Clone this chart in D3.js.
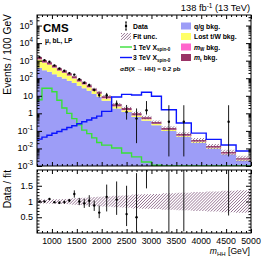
<!DOCTYPE html>
<meta charset="utf-8">
<script src="https://cdn.jsdelivr.net/npm/d3@7"></script>
<style>
  body { margin: 0; background: #fff; }
  svg text { font-family: "Liberation Sans", Arial, sans-serif; fill: #000; }
</style>
<div id="chart"></div>
<script>
  // bin edges in GeV (variable width)
  var edges = [700, 800, 900, 1000, 1100, 1200, 1300, 1400, 1500, 1600, 1700, 1800, 1900, 2000,
    2200, 2400, 2600, 2800, 3000, 3200, 3500, 3800, 4100, 4400, 4700, 5000];

  // backgrounds, events / 100 GeV
  var qgBkg = [400, 284, 235, 170, 122, 97, 72, 53, 37, 27, 19.2, 12.5, 8.8,
    5.2, 1.9, 1.2, 0.62, 0.384, 0.211, 0.099, 0.046, 0.0213, 0.0099, 0.0046, 0.00207];
  var lostTW = [752, 472, 348, 226, 144, 100, 66, 42, 26, 16.5, 10.4, 6, 3.7,
    1.9, 0.56, 0.3, 0.13, 0.072, 0.035, 0.0145, 0.006, 0.0024, 0.0011, 0.00044, 0.0002];
  var mWBkg = [48, 32, 24, 16, 11, 8, 6, 4, 2.6, 1.8, 1.2, 0.75, 0.5,
    0.28, 0.1, 0.06, 0.03, 0.018, 0.01, 0.0044, 0.002, 0.0009, 0.0004, 0.0002, 0.00008];
  var mtBkg = [400, 262, 203, 138, 93, 65, 46, 31, 21.4, 13.7, 9.2, 5.75, 4,
    2.12, 0.74, 0.44, 0.22, 0.126, 0.064, 0.0271, 0.012, 0.0054, 0.0023, 0.00106, 0.00045];
  // relative fit uncertainty per bin
  var fitUnc = [0.06, 0.06, 0.06, 0.07, 0.07, 0.08, 0.09, 0.1, 0.11, 0.12, 0.13, 0.14, 0.15,
    0.16, 0.18, 0.19, 0.22, 0.23, 0.24, 0.26, 0.28, 0.3, 0.32, 0.34, 0.36];

  // signals, events / 100 GeV
  var sig1TeV = [6, 27, 27, 17, 5.6, 2.0, 1.0, 0.5, 0.22, 0.11, 0.07, 0.04, 0.022,
    0.0155, 0.0105, 0.0055, 0.0033, 0.0017, 0.0011, 0.0008, 0.0006, 0.0005, 0.0004, 0.0003, 0.0003];
  var sig3TeV = [0.034, 0.044, 0.056, 0.073, 0.093, 0.12, 0.155, 0.197, 0.257, 0.33, 0.42, 0.54, 0.69,
    1.3, 8.5, 12, 11, 16, 9.5, 1.6, 0.28, 0.075, 0.033, 0.0156, 0.0071];

  // data, events / 100 GeV (null = empty bin)
  var dataVal = [1600, 1050, 875, 539, 355, 265, 196, 161, 87, 55.5, 41, 21.8, 11,
    10.9, 3.5, 1.2, 0.5, 1.5, null, 0.333, 0.333, null, null, 0.333, null];
  var dataLo = [1570, 1030, 850, 522, 340, 251, 186, 146, 77, 47, 33, 17.5, 8,
    6.5, 1.9, 0.44, 0.02, 0.85, null, 0.0035, 0.0035, null, null, 0.0035, null];
  var dataHi = [1630, 1070, 900, 556, 370, 278, 205, 176, 97, 64, 48, 25.8, 14.8,
    14.6, 5.4, 3.0, 1.9, 5.0, null, 2.9, 2.9, null, null, 2.9, null];

  var xTickVals = [1000, 1500, 2000, 2500, 3000, 3500, 4000, 4500, 5000];
  var logTickVals = [1e-3, 1e-2, 1e-1, 1, 10, 1e2, 1e3, 1e4, 1e5];
  var ratioTickVals = [0.5, 1, 1.5];

  var X0 = 37, X1 = 251, TY0 = 15, TY1 = 166, RY0 = 170, RY1 = 233;

  var bins = edges.slice(0, -1).map(function (e, i) {
    return {
      x0: e, x1: edges[i + 1], qg: qgBkg[i], tw: lostTW[i], mw: mWBkg[i], mt: mtBkg[i],
      unc: fitUnc[i], s1: sig1TeV[i], s3: sig3TeV[i],
      d: dataVal[i], dlo: dataLo[i], dhi: dataHi[i]
    };
  });
  bins.forEach(function (b) { b.tot = b.qg + b.tw + b.mw + b.mt; });

  var svg = d3.select("#chart").append("svg")
    .attr("width", 266).attr("height", 256);

  var defs = svg.append("defs");
  var hatch = defs.append("pattern").attr("id", "hatch")
    .attr("patternUnits", "userSpaceOnUse").attr("width", 2.1).attr("height", 2.1)
    .attr("patternTransform", "rotate(45)");
  hatch.append("line").attr("x1", 0).attr("y1", 0).attr("x2", 0).attr("y2", 2.1)
    .attr("stroke", "#8c6689").attr("stroke-width", 1.3);
  defs.append("clipPath").attr("id", "clipTop").append("rect")
    .attr("x", X0).attr("y", TY0).attr("width", X1 - X0).attr("height", TY1 - TY0);
  defs.append("clipPath").attr("id", "clipRatio").append("rect")
    .attr("x", X0).attr("y", RY0).attr("width", X1 - X0).attr("height", RY1 - RY0);

  var x = d3.scaleLinear().domain([700, 5000]).range([X0, X1]);
  var y = d3.scaleLog().domain([1e-3, 4e5]).range([TY1, TY0]).clamp(true);
  var r = d3.scaleLinear().domain([0, 2]).range([RY1, RY0]);

  function yv(v) { return y(Math.max(v, 1e-5)); }

  // step points: two per bin
  function stepPts(fLo, fHi) {
    var pts = [];
    bins.forEach(function (b) {
      var lo = fLo ? fLo(b) : 0;
      pts.push({ x: b.x0, lo: lo, hi: fHi(b) });
      pts.push({ x: b.x1, lo: lo, hi: fHi(b) });
    });
    return pts;
  }
  var area = d3.area().x(function (d) { return x(d.x); })
    .y0(function (d) { return yv(d.lo); }).y1(function (d) { return yv(d.hi); });
  var rArea = d3.area().x(function (d) { return x(d.x); })
    .y0(function (d) { return r(d.lo); }).y1(function (d) { return r(d.hi); });
  var line = d3.line().x(function (d) { return x(d.x); }).y(function (d) { return yv(d.hi); });

  // ---- top panel ----
  var topG = svg.append("g").attr("clip-path", "url(#clipTop)");

  var stack = d3.stack().keys(["qg", "tw", "mw", "mt"])(bins);
  var colors = { qg: "#9d9df7", tw: "#ffff66", mw: "#ff66cc", mt: "#993366" };
  stack.forEach(function (layer) {
    var pts = [];
    layer.forEach(function (s, i) {
      pts.push({ x: bins[i].x0, lo: s[0], hi: s[1] });
      pts.push({ x: bins[i].x1, lo: s[0], hi: s[1] });
    });
    topG.append("path").attr("d", area(pts)).attr("fill", colors[layer.key]);
  });

  topG.append("path")
    .attr("d", area(stepPts(function (b) { return b.tot * (1 - b.unc); }, function (b) { return b.tot * (1 + b.unc); })))
    .attr("fill", "url(#hatch)");

  topG.append("path").attr("d", line(stepPts(null, function (b) { return b.s1; })))
    .attr("fill", "none").attr("stroke", "#38e038").attr("stroke-width", 1.4);
  topG.append("path").attr("d", line(stepPts(null, function (b) { return b.s3; })))
    .attr("fill", "none").attr("stroke", "#0a14ff").attr("stroke-width", 1.4);

  var dataBins = bins.filter(function (b) { return b.d !== null; });
  var dg = topG.append("g");
  dataBins.forEach(function (b) {
    var cx = x((b.x0 + b.x1) / 2);
    dg.append("line").attr("x1", cx).attr("x2", cx)
      .attr("y1", y(b.dlo)).attr("y2", y(b.dhi))
      .attr("stroke", "#000").attr("stroke-width", 0.9);
    dg.append("circle").attr("cx", cx).attr("cy", y(b.d)).attr("r", 1.2).attr("fill", "#000");
  });

  // ---- ratio panel ----
  var rat = svg.append("g").attr("clip-path", "url(#clipRatio)");
  rat.append("path")
    .attr("d", rArea(stepPts(function (b) { return 1 - b.unc; }, function (b) { return 1 + b.unc; })))
    .attr("fill", "url(#hatch)");
  dataBins.forEach(function (b) {
    var cx = x((b.x0 + b.x1) / 2);
    rat.append("line").attr("x1", cx).attr("x2", cx)
      .attr("y1", r(b.dlo / b.tot)).attr("y2", r(Math.min(b.dhi / b.tot, 3)))
      .attr("stroke", "#000").attr("stroke-width", 0.9);
    rat.append("circle").attr("cx", cx).attr("cy", r(b.d / b.tot)).attr("r", 1.2).attr("fill", "#000");
  });

  // ---- frames and ticks ----
  function frame(y0, y1) {
    svg.append("rect").attr("x", X0).attr("y", y0).attr("width", X1 - X0).attr("height", y1 - y0)
      .attr("fill", "none").attr("stroke", "#000").attr("stroke-width", 1);
  }
  frame(TY0, TY1);
  frame(RY0, RY1);

  var xMinor = d3.range(700, 5001, 100).filter(function (v) { return v % 500 !== 0; });
  function xTicks(y0, y1) {
    [[y1, d3.axisBottom], [y0, d3.axisTop]].forEach(function (s) {
      var g = svg.append("g").attr("transform", "translate(0," + s[0] + ")");
      g.call(s[1](x).tickValues(xTickVals).tickSize(-4).tickFormat(""));
      var g2 = svg.append("g").attr("transform", "translate(0," + s[0] + ")");
      g2.call(s[1](x).tickValues(xMinor).tickSize(-2).tickFormat(""));
      g.selectAll(".domain").remove();
      g2.selectAll(".domain").remove();
    });
  }
  xTicks(TY0, TY1);
  xTicks(RY0, RY1);

  var logMinor = y.ticks().filter(function (v) {
    return logTickVals.indexOf(v) < 0 && v > 1e-3 && v < 4e5;
  });
  var rMinor = d3.range(1, 20).map(function (v) { return v / 10; })
    .filter(function (v) { return ratioTickVals.indexOf(v) < 0; });
  [[X0, d3.axisLeft], [X1, d3.axisRight]].forEach(function (s) {
    [[y, logTickVals, -5], [y, logMinor, -2.5], [r, ratioTickVals, -5], [r, rMinor, -2.5]].forEach(function (a) {
      var g = svg.append("g").attr("transform", "translate(" + s[0] + ",0)");
      g.call(s[1](a[0]).tickValues(a[1]).tickSize(a[2]).tickFormat(""));
      g.selectAll(".domain").remove();
    });
  });

  // ---- tick labels ----
  var fs = 9;
  logTickVals.forEach(function (v) {
    var k = Math.round(Math.log10(v));
    var t = svg.append("text").attr("x", 33).attr("y", y(v) + 3)
      .attr("text-anchor", "end").style("font-size", fs + "px");
    if (k === 0) t.text("1");
    else if (k === 1) t.text("10");
    else {
      t.append("tspan").text("10");
      t.append("tspan").attr("dy", -4).style("font-size", "6.3px").text(k);
    }
  });
  ratioTickVals.forEach(function (v) {
    svg.append("text").attr("x", 33).attr("y", r(v) + 3)
      .attr("text-anchor", "end").style("font-size", fs + "px").text(v);
  });
  xTickVals.forEach(function (v) {
    svg.append("text").attr("x", x(v)).attr("y", 243.5)
      .attr("text-anchor", "middle").style("font-size", "8.8px").text(v);
  });

  // ---- axis titles ----
  svg.append("text").attr("transform", "translate(10.5,14) rotate(-90)")
    .attr("text-anchor", "end").style("font-size", "10.3px").text("Events / 100 GeV");
  svg.append("text").attr("transform", "translate(10.5,170) rotate(-90)")
    .attr("text-anchor", "end").style("font-size", "10.3px").text("Data / fit");
  var xt = svg.append("text").attr("x", 250).attr("y", 254)
    .attr("text-anchor", "end").style("font-size", "8.6px");
  xt.append("tspan").style("font-style", "italic").text("m");
  xt.append("tspan").attr("dy", 1.5).style("font-size", "6px").text("HH");
  xt.append("tspan").attr("dy", -1.5).text(" [GeV]");

  var lumi = svg.append("text").attr("x", 250).attr("y", 11).attr("text-anchor", "end")
    .style("font-size", "9.3px");
  lumi.append("tspan").text("138 fb");
  lumi.append("tspan").attr("dy", -3.5).style("font-size", "6.5px").text("-1");
  lumi.append("tspan").attr("dy", 3.5).text(" (13 TeV)");

  svg.append("text").attr("x", 43).attr("y", 32).style("font-size", "11.5px")
    .style("font-weight", "bold").text("CMS");
  svg.append("text").attr("x", 45).attr("y", 43).style("font-size", "6.5px")
    .style("font-weight", "bold").text("\u03bc, bL, LP");

  // ---- legend ----
  var lf = "6.8px";
  var rows = [26, 36.5, 47, 57.5];
  var lx = 121, tx = 133;
  var leg = svg.append("g");
  // Data
  leg.append("line").attr("x1", lx + 5).attr("x2", lx + 5).attr("y1", rows[0] - 4).attr("y2", rows[0] + 4)
    .attr("stroke", "#000").attr("stroke-width", 0.9);
  [rows[0] - 4, rows[0] + 4].forEach(function (yy) {
    leg.append("line").attr("x1", lx + 4).attr("x2", lx + 6).attr("y1", yy).attr("y2", yy)
      .attr("stroke", "#000").attr("stroke-width", 0.8);
  });
  leg.append("circle").attr("cx", lx + 5).attr("cy", rows[0]).attr("r", 1.2);
  // Fit unc
  leg.append("rect").attr("x", lx).attr("y", rows[1] - 3.5).attr("width", 10).attr("height", 7)
    .attr("fill", "url(#hatch)");
  leg.append("line").attr("x1", lx - 1).attr("x2", lx + 11).attr("y1", rows[2]).attr("y2", rows[2])
    .attr("stroke", "#38e038").attr("stroke-width", 1.4);
  leg.append("line").attr("x1", lx - 1).attr("x2", lx + 11).attr("y1", rows[3]).attr("y2", rows[3])
    .attr("stroke", "#0a14ff").attr("stroke-width", 1.4);

  function legText(yy, parts) {
    var t = leg.append("text").attr("x", tx).attr("y", yy + 2.5).style("font-size", lf)
      .style("font-weight", "bold");
    parts.forEach(function (p) {
      var s = t.append("tspan").text(p[0]);
      if (p[1]) s.attr("dy", p[1]);
      if (p[2]) s.style("font-size", p[2]);
      if (p[3]) s.style("font-style", "italic");
    });
    return t;
  }
  legText(rows[0], [["Data"]]);
  legText(rows[1], [["Fit unc."]]);
  legText(rows[2], [["1 TeV X"], ["spin-0", 1.8, "4.5px"]]);
  legText(rows[3], [["3 TeV X"], ["spin-0", 1.8, "4.5px"]]);
  legText(68, [["\u03c3"], ["B", 0, null, true], ["(X \u2192 HH) = 0.2 pb"]]).attr("x", lx - 1).style("font-size", "6.2px");

  var rx = 181, rtx = 194;
  var rItems = [
    { c: colors.qg, t: [["q/g bkg."]] },
    { c: colors.tw, t: [["Lost t/W bkg."]] },
    { c: colors.mw, t: [["m", 0, null, true], ["W", 1.8, "4.5px"], [" bkg.", -1.8]] },
    { c: colors.mt, t: [["m", 0, null, true], ["t", 1.8, "4.5px"], [" bkg.", -1.8]] }
  ];
  rItems.forEach(function (it, i) {
    leg.append("rect").attr("x", rx).attr("y", rows[i] - 3.5).attr("width", 10).attr("height", 7)
      .attr("fill", it.c);
    legText(rows[i], it.t).attr("x", rtx);
  });
</script>
